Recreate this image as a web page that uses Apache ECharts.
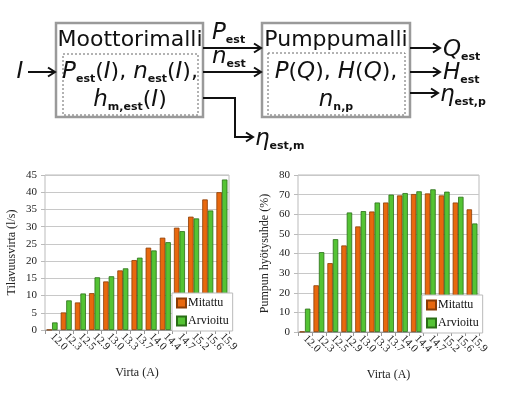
<!DOCTYPE html>
<html>
<head>
<meta charset="utf-8">
<script src="https://cdn.jsdelivr.net/npm/echarts@6/dist/echarts.min.js"></script>
<style>
  html, body { margin: 0; padding: 0; background: #fff; }
  #chart { width: 511px; height: 397px; }
</style>
</head>
<body>
<div id="chart"></div>
<script>
const categories = ['12.0', '12.3', '12.5', '12.9', '13.0', '13.3', '13.7', '14.0', '14.4', '14.7', '15.2', '15.6', '15.9']
// tilavuusvirta (l/s)
const flowMeasured = [0.1, 5.1, 8.0, 10.7, 14.1, 17.3, 20.3, 23.9, 26.8, 29.7, 32.9, 37.9, 40.0]
const flowEstimated = [2.2, 8.6, 10.6, 15.3, 15.6, 17.9, 21.0, 23.1, 25.5, 28.7, 32.4, 34.7, 43.7]
// pumpun hyötysuhde (%)
const effMeasured = [0.2, 23.8, 35.1, 44.1, 53.8, 61.4, 66.0, 69.6, 70.3, 70.6, 69.6, 66.0, 62.5]
const effEstimated = [11.9, 40.7, 47.3, 60.9, 61.6, 66.0, 70.0, 70.8, 71.7, 72.7, 71.5, 68.9, 55.3]

const serif = 'Liberation Serif'
const sans = 'DejaVu Sans'
const orange = '#E8680E'
const green = '#54C334'

const mathRich = {
  n: { fontFamily: sans, fontSize: 22, lineHeight: 26, color: '#111' },
  it: { fontFamily: sans, fontStyle: 'italic', fontSize: 23, lineHeight: 26, color: '#111' },
  s: { fontFamily: sans, fontWeight: 'bold', fontSize: 11, lineHeight: 11, verticalAlign: 'bottom', color: '#111' }
}

const txt = (x, y, text, align) => ({
  type: 'text', x: x, y: y, z: 10,
  style: { text: text, rich: mathRich, align: align || 'center', verticalAlign: 'middle', fill: '#111' }
})
const arrow = (pts) => {
  const [x, y] = pts[pts.length - 1]
  return [
    { type: 'polyline', z: 10, shape: { points: pts }, style: { stroke: '#111', lineWidth: 2, fill: null } },
    { type: 'polyline', z: 10, shape: { points: [[x - 7, y - 4.5], [x, y], [x - 7, y + 4.5]] }, style: { stroke: '#111', lineWidth: 2, fill: null } }
  ]
}
const box = (x, y, w, h, ix, iy, iw, ih) => [
  { type: 'rect', z: 9, shape: { x: x, y: y, width: w, height: h }, style: { fill: '#fff', stroke: '#9a9a9a', lineWidth: 2.5 } },
  { type: 'rect', z: 9, shape: { x: ix, y: iy, width: iw, height: ih }, style: { fill: null, stroke: '#666', lineWidth: 1, lineDash: [2, 2] } }
]

const diagram = [].concat(
  box(56, 23, 147, 94, 63, 54, 135, 61),
  box(262, 23, 148, 94, 268, 53, 137, 62),
  arrow([[28, 72], [55, 72]]),
  arrow([[203, 48], [261, 48]]),
  arrow([[203, 72], [261, 72]]),
  arrow([[203, 98], [235, 98], [235, 137], [253, 137]]),
  arrow([[410, 48], [440, 48]]),
  arrow([[410, 72], [440, 72]]),
  arrow([[410, 93], [438, 93]]),
  [
    txt(20, 72, '{it|I}'),
    txt(130, 40, '{n|Moottorimalli}'),
    txt(130, 72, '{it|P}{s|est}{n|(}{it|I}{n|), }{it|n}{s|est}{n|(}{it|I}{n|),}'),
    txt(130, 100, '{it|h}{s|m,est}{n|(}{it|I}{n|)}'),
    txt(336, 40, '{n|Pumppumalli}'),
    txt(336, 72, '{it|P}{n|(}{it|Q}{n|), }{it|H}{n|(}{it|Q}{n|),}'),
    txt(336, 100, '{it|n}{s|n,p}'),
    txt(212, 33, '{it|P}{s|est}', 'left'),
    txt(212, 57, '{it|n}{s|est}', 'left'),
    txt(255, 139, '{it|η}{s|est,m}', 'left'),
    txt(443, 50, '{it|Q}{s|est}', 'left'),
    txt(443, 73, '{it|H}{s|est}', 'left'),
    txt(440, 95, '{it|η}{s|est,p}', 'left')
  ]
)

const axisFont = { fontFamily: serif, fontSize: 11, color: '#222' }

const xAxisFor = (gi) => ({
  type: 'category', gridIndex: gi, data: categories,
  name: 'Virta (A)', nameLocation: 'middle', nameGap: 37,
  nameTextStyle: { fontFamily: serif, fontSize: 12, color: '#222' },
  axisLine: { lineStyle: { color: '#999' } },
  axisTick: { show: true, length: 4, lineStyle: { color: '#999' } },
  axisLabel: Object.assign({ rotate: -45, margin: 5, interval: 0 }, axisFont)
})
const yAxisFor = (gi, name, max, interval, gap) => ({
  type: 'value', gridIndex: gi, min: 0, max: max, interval: interval,
  name: name, nameLocation: 'middle', nameGap: gap,
  nameTextStyle: { fontFamily: serif, fontSize: 12, color: '#222' },
  axisLine: { show: false },
  axisTick: { show: true, length: 4, lineStyle: { color: '#bbb' } },
  axisLabel: Object.assign({ margin: 8 }, axisFont),
  splitLine: { lineStyle: { color: '#c8c8c8' } }
})
const barSeries = (name, data, gi, color, border) => ({
  name: name, type: 'bar', data: data,
  xAxisIndex: gi, yAxisIndex: gi,
  barGap: '0%', barCategoryGap: '22%',
  itemStyle: { color: color, borderColor: border, borderWidth: 0.8 }
})
const legendFor = (left, top) => ({
  orient: 'vertical', left: left, top: top,
  itemWidth: 9, itemHeight: 9, itemGap: 6, padding: [4, 4, 4, 4],
  backgroundColor: '#fff', borderColor: '#bbb', borderWidth: 1,
  textStyle: { fontFamily: serif, fontSize: 12, color: '#111', padding: [0, 0, 0, -3] },
  data: [{ name: 'Mitattu', icon: 'rect' }, { name: 'Arvioitu', icon: 'rect' }]
})

const chart = echarts.init(document.getElementById('chart'))
chart.setOption({
  animation: false,
  backgroundColor: '#fff',
  grid: [
    { left: 45, top: 175, width: 184, height: 155, show: true, borderColor: '#bbb', borderWidth: 1 },
    { left: 298, top: 175, width: 181, height: 157, show: true, borderColor: '#bbb', borderWidth: 1 }
  ],
  xAxis: [xAxisFor(0), xAxisFor(1)],
  yAxis: [
    yAxisFor(0, 'Tilavuusvirta (l/s)', 45, 5, 27),
    yAxisFor(1, 'Pumpun hyötysuhde (%)', 80, 10, 27)
  ],
  legend: [legendFor(172, 293), legendFor(422, 295)],
  series: [
    barSeries('Mitattu', flowMeasured, 0, orange, '#8a3c05'),
    barSeries('Arvioitu', flowEstimated, 0, green, '#2a6e16'),
    barSeries('Mitattu', effMeasured, 1, orange, '#8a3c05'),
    barSeries('Arvioitu', effEstimated, 1, green, '#2a6e16')
  ],
  graphic: diagram
})
</script>
</body>
</html>
